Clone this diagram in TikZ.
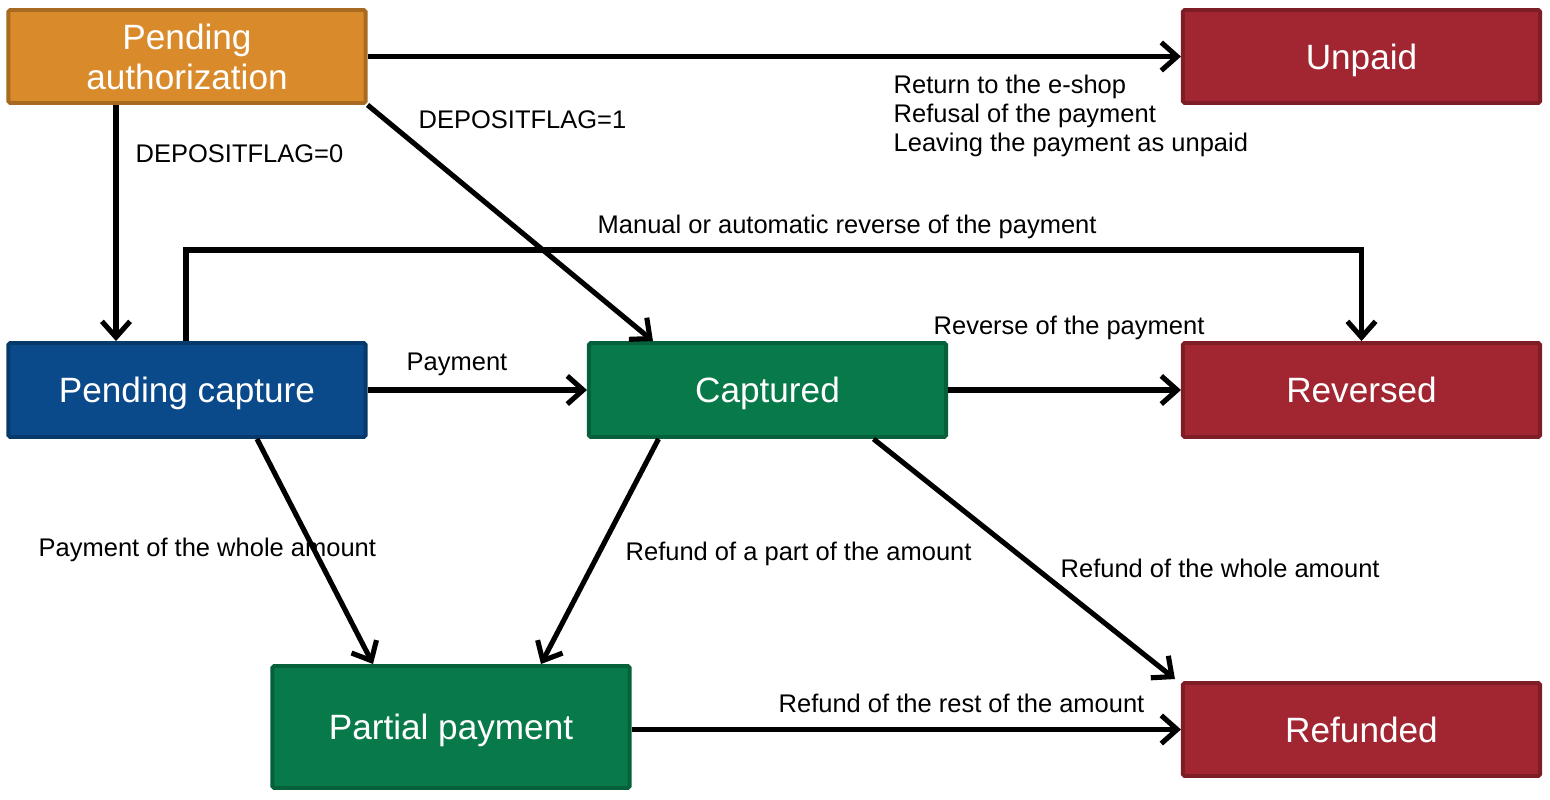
\documentclass[tikz,border=0pt]{standalone}
\usepackage{fontspec}
\setmainfont{Liberation Sans}
\usetikzlibrary{arrows.meta,calc}
\definecolor{cOrange}{HTML}{D98B2B}
\definecolor{cOrangeD}{HTML}{A86A20}
\definecolor{cRed}{HTML}{A12631}
\definecolor{cRedD}{HTML}{7D1D26}
\definecolor{cBlue}{HTML}{0A4A8A}
\definecolor{cBlueD}{HTML}{08396B}
\definecolor{cGreen}{HTML}{087A4A}
\definecolor{cGreenD}{HTML}{06613A}
\tikzset{
  state/.style={rectangle, rounded corners=0.5pt, line width=1.1pt, text=white,
    minimum width=3.57cm, minimum height=0.93cm, inner sep=0pt, align=center,
    font=\fontsize{10}{11.4}\selectfont},
  one/.style={text height=0.92em, text depth=0.2em},
  orangebox/.style={state, fill=cOrange, draw=cOrangeD},
  redbox/.style={state, one, fill=cRed, draw=cRedD},
  bluebox/.style={state, one, fill=cBlue, draw=cBlueD},
  greenbox/.style={state, one, fill=cGreen, draw=cGreenD},
  conn/.style={line width=1.45pt, draw=black, -{Straight Barb[length=4.5pt,width=8pt]}},
  lbl/.style={anchor=west, inner sep=0pt, yshift=-0.6pt, font=\fontsize{7.25}{8.3}\selectfont, align=left}
}
\begin{document}
\begin{tikzpicture}[x=0.01cm,y=-0.01cm]
\useasboundingbox (0,0) rectangle (1550,800);
\fill[white] (0,0) rectangle (1550,800);
% states
\node[orangebox] (pa) at (187,56.5) {Pending\\authorization};
\node[redbox] (unpaid) at (1361.5,56.5) {Unpaid};
\node[bluebox, minimum height=0.94cm] (pc) at (187,390) {Pending capture};
\node[greenbox, minimum height=0.94cm] (cap) at (767.5,390) {Captured};
\node[redbox, minimum height=0.94cm] (rev) at (1361.5,390) {Reversed};
\node[greenbox, minimum height=1.22cm] (pp) at (451,727) {Partial payment};
\node[redbox] (ref) at (1361.5,729.5) {Refunded};
% connectors
\draw[conn] (pa.east |- unpaid.west) -- (unpaid.west);
\draw[conn] ($(pa.south)+(-71,0)$) -- ($(pc.north)+(-71,0)$);
\draw[conn] (pa.south east) -- ($(cap.north west)+(66,0)$);
\coordinate (rvA) at ($(pc.north)+(-1,-91)$);
\draw[conn] ($(pc.north)+(-1,0)$) -- (rvA) -- (rvA -| rev.north) -- (rev.north);
\draw[conn] (pc.east) -- (cap.west);
\draw[conn] (cap.east) -- (rev.west);
\draw[conn] ($(pc.south)+(70,0)$) -- ($(pp.north)+(-78,0)$);
\draw[conn] ($(cap.south)+(-109,0)$) -- ($(pp.north)+(90,0)$);
\draw[conn] ($(cap.south)+(106,0)$) -- ($(ref.north west)+(-6,-2)$);
\draw[conn] (pp.east |- ref.west) -- (ref.west);
% labels
\node[lbl, anchor=north west] (lunpaid) at (893,72) {Return to the e-shop\\Refusal of the payment\\Leaving the payment as unpaid};
\node[lbl] (ldf0) at (135,152) {DEPOSITFLAG=0};
\node[lbl] (ldf1) at (418,118) {DEPOSITFLAG=1};
\node[lbl] (lman) at (597,225) {Manual or automatic reverse of the payment};
\node[lbl] (lpay) at (406,362) {Payment};
\node[lbl] (lrev) at (933,326) {Reverse of the payment};
\node[lbl] (lwhole) at (38,548) {Payment of the whole amount};
\node[lbl] (lpart) at (625,552) {Refund of a part of the amount};
\node[lbl] (lrefw) at (1060,566) {Refund of the whole amount};
\node[lbl] (lrest) at (778,701) {Refund of the rest of the amount};
\end{tikzpicture}
\end{document}
